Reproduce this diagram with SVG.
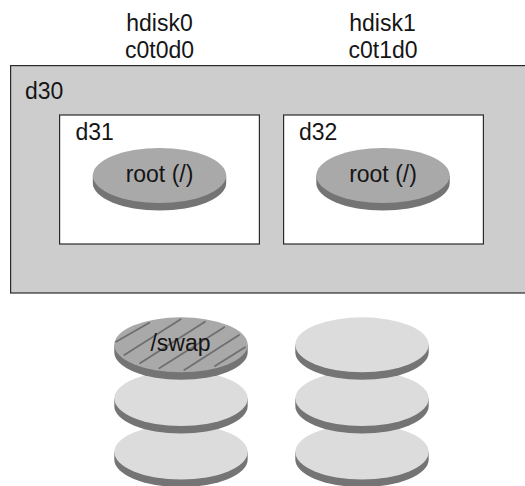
<svg xmlns="http://www.w3.org/2000/svg" width="525" height="486" viewBox="0 0 525 486">
<style>
text{font-family:"Liberation Sans",Arial,sans-serif;font-size:23px;fill:#151515}
.m{text-anchor:middle}
.box{stroke:#2a2a2a;stroke-width:1.2}
.side{fill:#747474}
.rt{fill:#a9a9a9}
.lt{fill:#dcdcdc}
.h{stroke:#6f6f6f;stroke-width:1.8;fill:none;stroke-linecap:round}
</style>
<defs>
<g id="base"><path class="side" d="M-66.7 0V7.5A66.7 27.5 0 0 0 66.7 7.5V0Z"/></g>
</defs>
<rect width="525" height="486" fill="#fff"/>
<g id="label-hdisk0"><text class="m" x="159.5" y="31">hdisk0</text><text class="m" x="159.5" y="57.5">c0t0d0</text></g>
<g id="label-hdisk1"><text class="m" x="382.5" y="31">hdisk1</text><text class="m" x="383" y="57.5">c0t1d0</text></g>
<g id="d30"><rect class="box" x="10.6" y="65.6" width="520" height="227.4" fill="#cdcdcd"/><text x="25" y="98.5">d30</text></g>
<g id="d31"><rect class="box" x="59.6" y="115" width="199.8" height="129" fill="#fff"/><text x="75.5" y="140">d31</text></g>
<g id="d32"><rect class="box" x="283.6" y="115" width="199.8" height="129" fill="#fff"/><text x="299" y="140">d32</text></g>
<g id="root0"><use href="#base" x="159.5" y="175.5"/><ellipse class="rt" cx="159.5" cy="175.5" rx="66.7" ry="27.5"/><text class="m" x="159.5" y="181.7">root (/)</text></g>
<g id="root1"><use href="#base" x="383" y="175.5"/><ellipse class="rt" cx="383" cy="175.5" rx="66.7" ry="27.5"/><text class="m" x="383" y="181.7">root (/)</text></g>
<g id="disk0-3"><use href="#base" x="181" y="452"/><ellipse class="lt" cx="181" cy="452" rx="66.7" ry="27.5"/></g>
<g id="disk0-2"><use href="#base" x="181" y="398.5"/><ellipse class="lt" cx="181" cy="398.5" rx="66.7" ry="27.5"/></g>
<g id="swap"><use href="#base" x="181" y="344.8"/><ellipse class="rt" cx="181" cy="344.8" rx="66.7" ry="27.5"/>
<path class="h" d="M116 341.7L149.3 322.7M124.3 355L180.7 319.3M140 363.3L205 321.7M159.3 368.3L224.3 327.3M184.3 370L239 335M215 366L245 347.3"/>
<text class="m" x="180.5" y="350.7">/swap</text></g>
<g id="disk1-3"><use href="#base" x="362" y="452"/><ellipse class="lt" cx="362" cy="452" rx="66.7" ry="27.5"/></g>
<g id="disk1-2"><use href="#base" x="362" y="398.5"/><ellipse class="lt" cx="362" cy="398.5" rx="66.7" ry="27.5"/></g>
<g id="disk1-1"><use href="#base" x="362" y="344.8"/><ellipse class="lt" cx="362" cy="344.8" rx="66.7" ry="27.5"/></g>
</svg>
